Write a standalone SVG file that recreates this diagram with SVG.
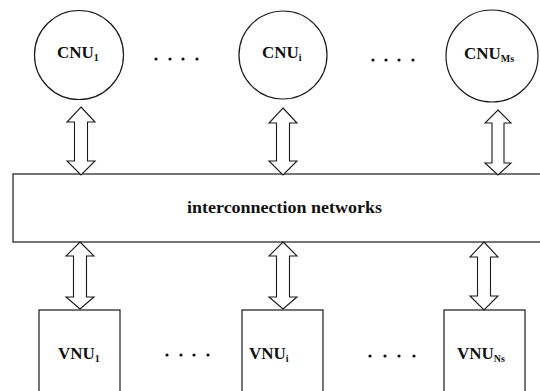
<svg xmlns="http://www.w3.org/2000/svg" width="540" height="391" viewBox="0 0 540 391">
<style>
.sh{fill:#fff;stroke:#1a1a1a;stroke-width:1.2}
.ar{fill:#fff;stroke:#1a1a1a;stroke-width:1.1;stroke-linejoin:miter}
.t{font-family:"Liberation Serif",serif;font-weight:bold;font-size:17px;fill:#111}
.s{font-size:10px}
.d{fill:#111}
</style>
<rect width="540" height="391" fill="#fff"/>
<g id="cnu1"><circle class="sh" cx="79" cy="55" r="44.5"/><text class="t" x="57" y="58">CNU<tspan class="s" dy="3">1</tspan></text></g>
<g id="cnui"><circle class="sh" cx="283" cy="55" r="44"/><text class="t" x="262" y="58">CNU<tspan class="s" dy="3">i</tspan></text></g>
<g id="cnums"><circle class="sh" cx="492" cy="56" r="46"/><text class="t" x="464" y="59">CNU<tspan class="s" dy="3">Ms</tspan></text></g>
<g id="dots-top" class="d">
<circle cx="156" cy="59" r="1.6"/><circle cx="170" cy="59" r="1.6"/><circle cx="183" cy="59" r="1.6"/><circle cx="197" cy="59" r="1.6"/>
<circle cx="373" cy="60" r="1.6"/><circle cx="386" cy="60" r="1.6"/><circle cx="399" cy="60" r="1.6"/><circle cx="413" cy="60" r="1.6"/>
</g>
<g id="network"><rect class="sh" x="13" y="174" width="535" height="68"/><text class="t" x="187" y="213" textLength="195" lengthAdjust="spacingAndGlyphs">interconnection networks</text></g>
<g id="vnu1"><rect class="sh" x="39" y="310" width="81" height="90"/><text class="t" x="58" y="359">VNU<tspan class="s" dy="3">1</tspan></text></g>
<g id="vnui"><rect class="sh" x="242" y="310" width="81" height="90"/><text class="t" x="249" y="359">VNU<tspan class="s" dy="3">i</tspan></text></g>
<g id="vnuns"><rect class="sh" x="444" y="310" width="81" height="90"/><text class="t" x="457" y="359">VNU<tspan class="s" dy="3">Ns</tspan></text></g>
<g id="dots-bottom" class="d">
<circle cx="167" cy="355" r="1.6"/><circle cx="181" cy="355" r="1.6"/><circle cx="194" cy="355" r="1.6"/><circle cx="208" cy="355" r="1.6"/>
<circle cx="370" cy="356" r="1.6"/><circle cx="385" cy="356" r="1.6"/><circle cx="399" cy="356" r="1.6"/><circle cx="414" cy="356" r="1.6"/>
</g>
<g id="connectors">
<polygon class="ar" points="81,107 95,122 87.5,122 87.5,161 95,161 81,175 67,161 74.5,161 74.5,122 67,122"/>
<polygon class="ar" points="283,108 297,123 289.5,123 289.5,161 297,161 283,175 269,161 276.5,161 276.5,123 269,123"/>
<polygon class="ar" points="498,110 511,123 504,123 504,163 511,163 498,175 485,163 492,163 492,123 485,123"/>
<polygon class="ar" points="80,242 94,256 86.5,256 86.5,297 94,297 80,309 66,297 73.5,297 73.5,256 66,256"/>
<polygon class="ar" points="283,242 297,256 289.5,256 289.5,297 297,297 283,309 269,297 276.5,297 276.5,256 269,256"/>
<polygon class="ar" points="484,242 498,257 490.5,257 490.5,296 498,296 484,310 470,296 477.5,296 477.5,257 470,257"/>
</g>
</svg>
